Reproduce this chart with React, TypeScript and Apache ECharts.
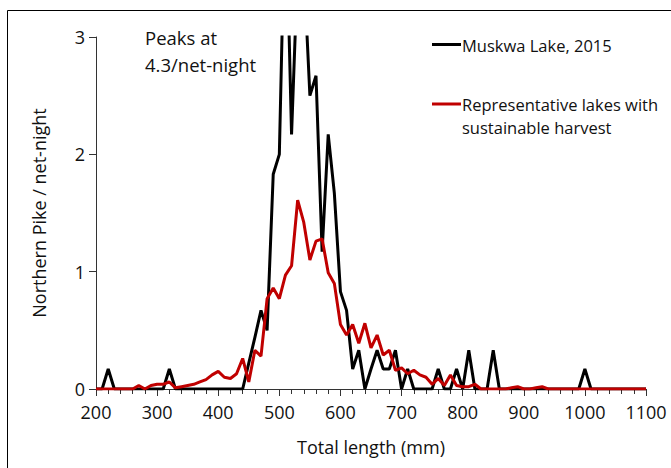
import React, { useEffect, useRef } from "react";
import * as echarts from "echarts";

const lengths = [
  200, 210, 220, 230, 240, 250, 260, 270, 280, 290,
  300, 310, 320, 330, 340, 350, 360, 370, 380, 390,
  400, 410, 420, 430, 440, 450, 460, 470, 480, 490,
  500, 510, 520, 530, 540, 550, 560, 570, 580, 590,
  600, 610, 620, 630, 640, 650, 660, 670, 680, 690,
  700, 710, 720, 730, 740, 750, 760, 770, 780, 790,
  800, 810, 820, 830, 840, 850, 860, 870, 880, 890,
  900, 910, 920, 930, 940, 950, 960, 970, 980, 990,
  1000, 1010, 1020, 1030, 1040, 1050, 1060, 1070, 1080, 1090,
  1100,
];

const muskwa = [
  0, 0, 0.17, 0, 0, 0, 0, 0, 0, 0,
  0, 0, 0.17, 0, 0, 0, 0, 0, 0, 0,
  0, 0, 0, 0, 0, 0.22, 0.44, 0.67, 0.5, 1.83,
  2.0, 4.3, 2.17, 3.6, 3.6, 2.5, 2.67, 1.17, 2.17, 1.67,
  0.83, 0.67, 0.17, 0.33, 0, 0.17, 0.33, 0.17, 0.17, 0.33,
  0, 0.17, 0, 0, 0, 0, 0.17, 0, 0, 0.17,
  0, 0.33, 0, 0, 0, 0.33, 0, 0, 0, 0,
  0, 0, 0, 0, 0, 0, 0, 0, 0, 0,
  0.17, 0, 0, 0, 0, 0, 0, 0, 0, 0,
  0,
];

const representative = [
  0, 0, 0, 0, 0, 0, 0, 0.03, 0, 0.03,
  0.04, 0.04, 0.06, 0.01, 0.02, 0.03, 0.04, 0.06, 0.08, 0.12,
  0.15, 0.1, 0.09, 0.13, 0.26, 0.06, 0.33, 0.28, 0.77, 0.86,
  0.77, 0.97, 1.05, 1.61, 1.42, 1.1, 1.26, 1.28, 0.99, 0.9,
  0.55, 0.46, 0.55, 0.39, 0.56, 0.35, 0.46, 0.29, 0.33, 0.16,
  0.18, 0.13, 0.16, 0.12, 0.1, 0.04, 0.09, 0.03, 0.12, 0.03,
  0.02, 0.02, 0.04, 0, 0, 0, 0, 0, 0.01, 0.02,
  0, 0, 0.01, 0.02, 0, 0, 0, 0, 0, 0,
  0, 0, 0, 0, 0, 0, 0, 0, 0, 0,
  0,
];

const yTicks = [0, 1, 2, 3];
const seriesNames = ["Muskwa Lake, 2015", "Representative lakes with\nsustainable harvest"];
const noteLines = ["Peaks at", "4.3/net-night"];

const FONT = "Open Sans";
const INK = "#111";

export default function App() {
  const ref = useRef<HTMLDivElement>(null);
  useEffect(() => {
    const chart = echarts.init(ref.current!, null, { renderer: "svg" });
    const blackData = lengths.map((x, i) => [x, muskwa[i]]);
    const redData = lengths.map((x, i) => [x, representative[i]]);
    chart.setOption({
      animation: false,
      backgroundColor: "#fff",
      textStyle: { fontFamily: FONT },
      grid: { left: 96, right: 25, top: 37, bottom: 79, containLabel: false },
      xAxis: {
        type: "value",
        min: 200,
        max: 1100,
        interval: 100,
        name: "Total length (mm)",
        nameLocation: "middle",
        nameGap: 49,
        nameTextStyle: { fontSize: 18, color: INK, fontFamily: FONT },
        axisLine: { show: true, lineStyle: { color: "#333", width: 1 } },
        axisTick: { show: true, length: 7, lineStyle: { color: "#333" } },
        minorTick: { show: true, splitNumber: 5, length: 5, lineStyle: { color: "#333" } },
        splitLine: { show: false },
        axisLabel: {
          fontSize: 18,
          color: INK,
          margin: 14,
          fontFamily: FONT,
          formatter: (v: number) => String(v),
        },
      },
      yAxis: {
        type: "value",
        min: yTicks[0],
        max: yTicks[yTicks.length - 1],
        interval: 1,
        name: "Northern Pike / net-night",
        nameLocation: "middle",
        nameGap: 48,
        nameTextStyle: { fontSize: 18, color: INK, fontFamily: FONT },
        axisLine: { show: true, lineStyle: { color: "#333", width: 1 } },
        axisTick: { show: true, length: 7, lineStyle: { color: "#333" } },
        splitLine: { show: false },
        axisLabel: { fontSize: 18, color: INK, margin: 11, fontFamily: FONT },
      },
      series: [
        {
          name: seriesNames[0],
          type: "line",
          data: blackData,
          symbol: "none",
          clip: true,
          lineStyle: { color: "#000", width: 3 },
          itemStyle: { color: "#000" },
          z: 2,
        },
        {
          name: seriesNames[1],
          type: "line",
          data: redData,
          symbol: "none",
          clip: true,
          lineStyle: { color: "#c00000", width: 3 },
          itemStyle: { color: "#c00000" },
          z: 3,
        },
      ],
      graphic: [
        {
          type: "rect",
          shape: { x: 7.5, y: 10.5, width: 700, height: 500 },
          style: { fill: "none", stroke: "#000", lineWidth: 1 },
          silent: true,
        },
        {
          type: "text",
          x: 145,
          y: 37,
          style: { text: noteLines[0], fontSize: 18.5, fontFamily: FONT, fill: INK, verticalAlign: "middle" },
        },
        {
          type: "text",
          x: 145,
          y: 64,
          style: { text: noteLines[1], fontSize: 18.5, fontFamily: FONT, fill: INK, verticalAlign: "middle" },
        },
        {
          type: "line",
          shape: { x1: 432, y1: 44.5, x2: 461, y2: 44.5 },
          style: { stroke: "#000", lineWidth: 3 },
        },
        {
          type: "text",
          x: 462,
          y: 45,
          style: { text: seriesNames[0], fontSize: 16.5, fontFamily: FONT, fill: INK, verticalAlign: "middle" },
        },
        {
          type: "line",
          shape: { x1: 432, y1: 104, x2: 461, y2: 104 },
          style: { stroke: "#c00000", lineWidth: 3 },
        },
        {
          type: "text",
          x: 462,
          y: 92.5,
          style: {
            text: seriesNames[1],
            fontSize: 16.5,
            lineHeight: 23.5,
            fontFamily: FONT,
            fill: INK,
            verticalAlign: "top",
          },
        },
      ],
    });
    return () => chart.dispose();
  }, []);
  return (
    <div
      ref={ref}
      style={{ position: "fixed", left: 0, top: 0, width: 671, height: 468, background: "#fff" }}
    />
  );
}
